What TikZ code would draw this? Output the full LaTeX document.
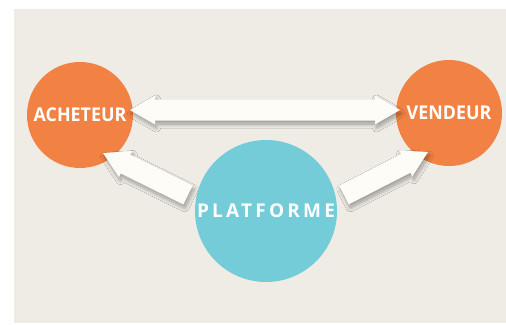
\documentclass[tikz,border=0pt]{standalone}
\usepackage{fontspec}
\setmainfont{Open Sans}
\newfontfamily\labelfont[FakeStretch=0.94]{Open Sans}
\usetikzlibrary{calc,shadows.blur}
\definecolor{bgcol}{HTML}{EFEBE5}
\definecolor{orangecol}{HTML}{F28244}
\definecolor{tealcol}{HTML}{74CCD8}
\definecolor{arrowcol}{HTML}{FEFCF7}
\tikzset{
  role/.style={circle, inner sep=0pt, minimum size=106pt, fill=orangecol, text=white,
    font=\labelfont\bfseries\fontsize{19}{19}\selectfont},
  hub/.style={circle, inner sep=0pt, minimum size=142pt, fill=tealcol, text=white,
    font=\bfseries\fontsize{19}{19}\selectfont\addfontfeature{LetterSpace=17}},
  blockarrow/.style={fill=arrowcol, blur shadow={shadow xshift=1.5pt, shadow yshift=-3.5pt,
    shadow blur radius=4pt, shadow opacity=35, shadow blur steps=14}},
}
\newcommand\singlearrow[3]{% #1 prefix, #2 tail, #3 tip
  \coordinate (#1b) at ($(#3)!25pt!(#2)$);
  \fill[blockarrow] ($(#2)!10.5pt!90:(#3)$) -- ($(#1b)!10.5pt!90:(#3)$) -- ($(#1b)!14.5pt!90:(#3)$)
    -- (#3) -- ($(#1b)!14.5pt!-90:(#3)$) -- ($(#1b)!10.5pt!-90:(#3)$) -- ($(#2)!10.5pt!-90:(#3)$) -- cycle;
}
\begin{document}
\begin{tikzpicture}[x=1pt,y=-1pt]
  \useasboundingbox (0,0) rectangle (506,324);
  \fill[bgcol] (14,9) rectangle (506,323);
  \node[role] (buyer) at (80,115) {ACHETEUR};
  \node[role] (seller) at (449,113) {VENDEUR};
  % double arrow
  \coordinate (d1) at (130,110);
  \coordinate (d2) at (400,110);
  \coordinate (db1) at ($(d1)!25pt!(d2)$);
  \coordinate (db2) at ($(d2)!25pt!(d1)$);
  \fill[blockarrow] (d1) -- ($(db1)!14.5pt!90:(d2)$) -- ($(db1)!10.5pt!90:(d2)$)
    -- ($(db2)!10.5pt!-90:(d1)$) -- ($(db2)!14.5pt!-90:(d1)$) -- (d2)
    -- ($(db2)!14.5pt!90:(d1)$) -- ($(db2)!10.5pt!90:(d1)$)
    -- ($(db1)!10.5pt!-90:(d2)$) -- ($(db1)!14.5pt!-90:(d2)$) -- cycle;
  % diagonal arrows
  \coordinate (lt) at (188,195);
  \coordinate (lh) at (103,153);
  \coordinate (rt) at (344,195);
  \coordinate (rh) at (428,152);
  \singlearrow{l}{lt}{lh}
  \singlearrow{r}{rt}{rh}
  \node[hub] (platform) at (266,211) {PLATFORME};
\end{tikzpicture}
\end{document}
